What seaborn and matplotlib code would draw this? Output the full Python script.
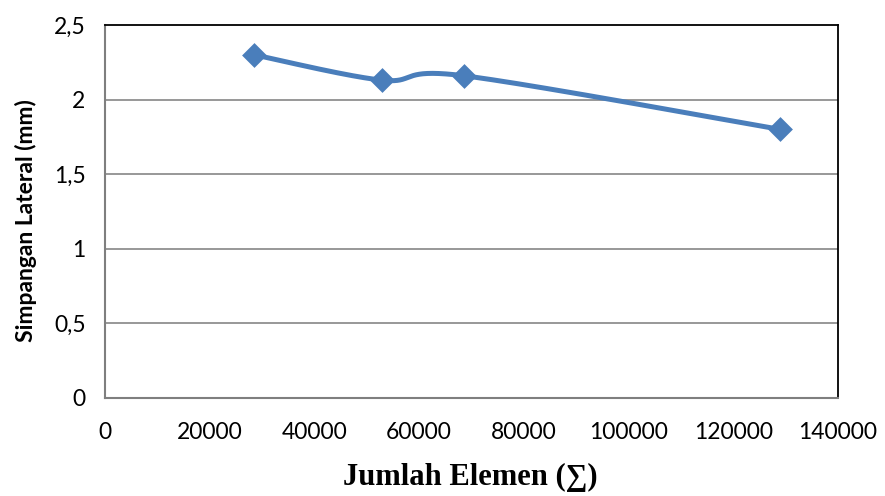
import numpy as np
import pandas as pd
import matplotlib
matplotlib.use("Agg")
import matplotlib.pyplot as plt
import seaborn as sns

# Lateral displacement vs. number of mesh elements
jumlah_elemen = [28500, 53000, 68500, 129000]
simpangan_mm = [2.30, 2.13, 2.16, 1.80]

x_ticks = [0, 20000, 40000, 60000, 80000, 100000, 120000, 140000]
y_ticks = [0, 0.5, 1.0, 1.5, 2.0, 2.5]
y_tick_labels = ["0", "0,5", "1", "1,5", "2", "2,5"]

X_MAX, Y_MAX = 140000, 2.5
LINE_COLOR = "#4A7EBB"

sns.set_theme(style="white")
plt.rcParams["font.family"] = ["Lato", "DejaVu Sans"]
plt.rcParams["axes.labelcolor"] = "black"
plt.rcParams["text.color"] = "black"

fig = plt.figure(figsize=(8.85, 4.96), dpi=100)
ax = fig.add_axes([0.1186, 0.1976, 0.9469 - 0.1186, 0.9496 - 0.1976])


def smooth_curve(xs, ys, n=60):
    """Cubic Bezier smoothing through the points (spreadsheet-style)."""
    # work in normalised axis units so the curvature looks right on screen
    px = np.asarray(xs, float) / X_MAX * 7.3
    py = np.asarray(ys, float) / Y_MAX * 3.7
    pts = np.column_stack([px, py])
    m = len(pts)
    out = []
    for i in range(m - 1):
        p0 = pts[i - 1] if i > 0 else pts[i]
        p1, p2 = pts[i], pts[i + 1]
        p3 = pts[i + 2] if i + 2 < m else pts[i + 1]
        c1 = p1 + (p2 - p0) / 6.0
        c2 = p2 - (p3 - p1) / 6.0
        t = np.linspace(0, 1, n)[:, None]
        seg = ((1 - t) ** 3) * p1 + 3 * ((1 - t) ** 2) * t * c1 \
            + 3 * (1 - t) * t ** 2 * c2 + t ** 3 * p2
        out.append(seg if i == 0 else seg[1:])
    out = np.vstack(out)
    return out[:, 0] / 7.3 * X_MAX, out[:, 1] / 3.7 * Y_MAX


cx, cy = smooth_curve(jumlah_elemen, simpangan_mm)
curve = pd.DataFrame({"x": cx, "y": cy})
points = pd.DataFrame({"x": jumlah_elemen, "y": simpangan_mm})

for yv in y_ticks[1:-1]:
    ax.axhline(yv, color="#868686", lw=1.2, zorder=1)

sns.lineplot(data=curve, x="x", y="y", ax=ax, color=LINE_COLOR, lw=3.6,
             sort=False, estimator=None, zorder=3)
sns.scatterplot(data=points, x="x", y="y", ax=ax, marker="D", s=160,
                color=LINE_COLOR, edgecolor=LINE_COLOR, linewidth=0, zorder=4)

ax.set_xlim(0, X_MAX)
ax.set_ylim(0, Y_MAX)
ax.set_xticks(x_ticks)
ax.set_xticklabels([str(v) for v in x_ticks])
ax.set_yticks(y_ticks)
ax.set_yticklabels(y_tick_labels)
ax.tick_params(axis="both", length=0, labelsize=16.5, colors="black")
ax.tick_params(axis="x", pad=17)
ax.tick_params(axis="y", pad=14)

for side in ["top", "right"]:
    ax.spines[side].set_color("black")
    ax.spines[side].set_linewidth(1.3)
for side in ["left", "bottom"]:
    ax.spines[side].set_color("#7f7f7f")
    ax.spines[side].set_linewidth(1.5)

ax.set_xlabel("Jumlah Elemen (∑)", fontsize=22, fontweight="bold",
              family=["Liberation Serif", "DejaVu Serif"], va="center",
              color="black")
ax.xaxis.set_label_coords(0.499, -0.212)
ax.set_ylabel("Simpangan Lateral (mm)", fontsize=16.5, fontweight="bold",
              va="center", color="black")
ax.yaxis.set_label_coords(-0.108, 0.475)

fig.savefig("out.png", dpi=100, facecolor="white")
